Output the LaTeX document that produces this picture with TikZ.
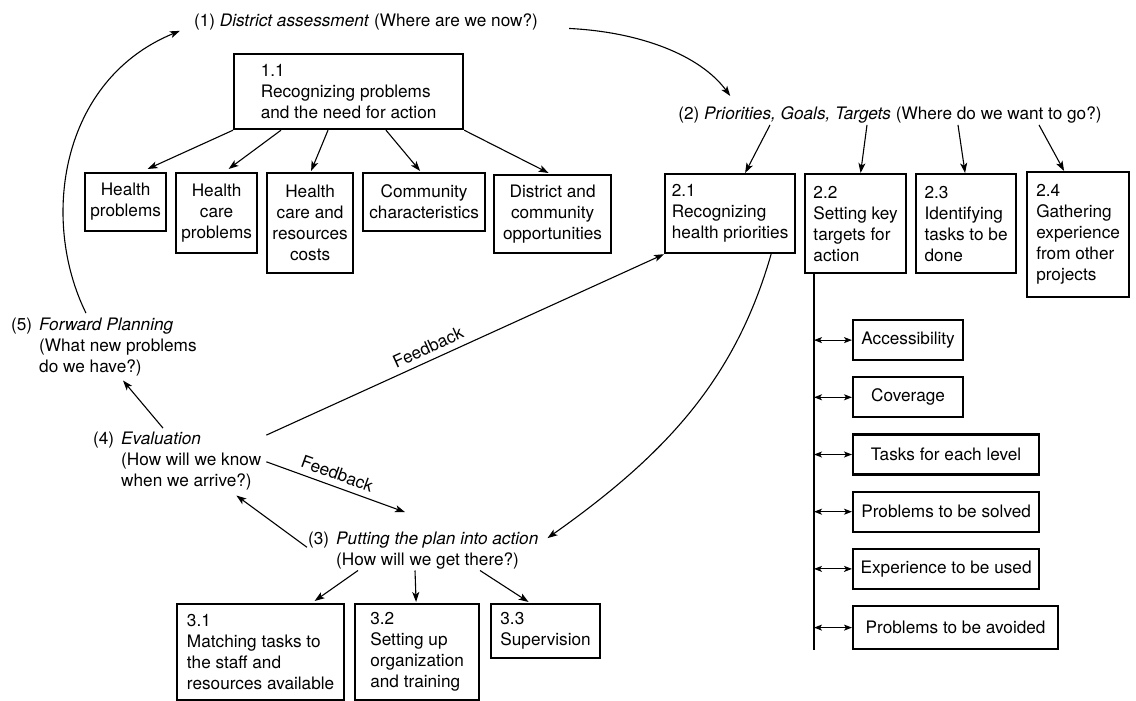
\documentclass[tikz,border=0pt]{standalone}
\usepackage{fontspec}
\setmainfont{TeX Gyre Heros}
\usetikzlibrary{positioning, arrows.meta, calc}

\begin{document}
\begin{tikzpicture}[x=1pt, y=-1pt,
    every node/.style={font=\fontsize{17.2}{21}\selectfont},
    box/.style={draw, line width=2.2pt, inner sep=3pt, anchor=north west, align=center},
    lbox/.style={box, align=left},
    dims/.style 2 args={minimum width=#1pt, minimum height=#2pt},
    stage/.style={inner sep=0pt, anchor=base west},
    title/.style={inner sep=2pt, anchor=base},
    fb/.style={above, sloped, inner sep=6pt},
    arr/.style={-{Stealth[length=10pt, width=7pt, inset=2.5pt]}, line width=1.1pt},
    link/.style={{Stealth[length=8pt, width=6pt, inset=2pt]}-{Stealth[length=8pt, width=6pt, inset=2pt]}, line width=1.1pt},
    bar/.style={line width=1.1pt}
]
\useasboundingbox (0,0) rectangle (1136,701);

% (1) district assessment
\node[title] (dist) at (366,27) {(1) \textit{District assessment} (Where are we now?)};
\node[lbox, dims={229}{75}] (rec) at (233,53) {1.1\\Recognizing problems\\and the need for action};
\node[box, dims={81}{58}] (hprob) at (84,172) {Health\\problems};
\node[box, dims={81}{80}] (hcare) at (175,172) {Health\\care\\problems};
\node[box, dims={86}{100}] (hcost) at (266,172) {Health\\care and\\resources\\costs};
\node[box, dims={122}{58}] (comm) at (362,172) {Community\\characteristics};
\node[box, dims={117}{78}] (opp) at (493,174) {District and\\community\\opportunities};

% (2) priorities
\node[title] (prio) at (890,119) {(2) \textit{Priorities, Goals, Targets} (Where do we want to go?)};
\node[lbox, dims={130}{79}] (hprio) at (664,173) {2.1\\Recognizing\\health priorities};
\node[lbox, dims={101}{99}] (keyt) at (804,173) {2.2\\Setting key\\targets for\\action};
\node[lbox, dims={100}{99}] (tasks) at (915,173) {2.3\\Identifying\\tasks to be\\done};
\node[lbox, dims={102}{125}] (gath) at (1026,171) {2.4\\Gathering\\experience\\from other\\projects};

\node[box, dims={110}{40}] (acc) at (852,319) {Accessibility};
\node[box, dims={110}{40}, below=15pt of acc.south west, anchor=north west] (cov) {Coverage};
\node[box, dims={186}{40}, below=15pt of cov.south west, anchor=north west] (lvl) {Tasks for each level};
\node[box, dims={186}{40}, below=15pt of lvl.south west, anchor=north west] (solv) {Problems to be solved};
\node[box, dims={186}{40}, below=15pt of solv.south west, anchor=north west] (expu) {Experience to be used};
\node[box, dims={205}{43}, below=15pt of expu.south west, anchor=north west] (avoid) {Problems to be avoided};

% (3) (4) (5)
\node[stage] (fwd) at (11,330) {\begin{tabular}[t]{@{}l@{\hspace{7pt}}l@{}}(5) & \textit{Forward Planning}\\ & (What new problems\\ & do we have?)\end{tabular}};
\node[stage] (eval) at (93,444) {\begin{tabular}[t]{@{}l@{\hspace{7pt}}l@{}}(4) & \textit{Evaluation}\\ & (How will we know\\ & when we arrive?)\end{tabular}};
\node[stage] (act) at (308,544) {\begin{tabular}[t]{@{}l@{\hspace{7pt}}l@{}}(3) & \textit{Putting the plan into action}\\ & (How will we get there?)\end{tabular}};

\node[lbox, dims={167}{96}] (match) at (176,603) {3.1\\Matching tasks to\\the staff and\\resources available};
\node[lbox, dims={124}{96}] (org) at (354,603) {3.2\\Setting up\\organization\\and training};
\node[lbox, dims={109}{54}] (sup) at (490,603) {3.3\\Supervision};

% cycle
\draw[arr] ($(fwd.north west)+(75,-2)$) .. controls (40,220) and (60,80) .. ($(dist.south west)+(-12,-2)$);
\draw[arr] ($(dist.east)+(29,6)$) .. controls (640,32) and (700,55) .. ($(prio.north west)+(54,-8)$);
\draw[arr] ($(hprio.south)+(41,0)$) .. controls (735,380) and (665,455) .. ($(act.north east)+(9,9)$);
\draw[arr] ($(act.west)+(-1,-3)$) -- ($(eval.south east)+(-25,3)$);
\draw[arr] ($(eval.north west)+(70,-1)$) -- ($(fwd.south west)+(112,2)$);
\draw[arr] ($(eval.north east)+(5,6)$) -- node[fb, pos=0.42] {Feedback} (hprio.south west);
\draw[arr] ($(eval.east)+(5,1)$) -- node[fb, pos=0.48] {Feedback} ($(act.north west)+(97,-17)$);

% branches
\draw[arr] (rec.south west) -- ($(hprob.north)+(22,-3)$);
\draw[arr] ($(rec.south west)+(48,0)$) -- ($(hcare.north)+(12,-3)$);
\draw[arr] ($(rec.south west)+(95,0)$) -- ($(hcost.north)+(1,-1)$);
\draw[arr] ($(rec.south west)+(153,0)$) -- ($(comm.north)+(-4,-1)$);
\draw[arr] (rec.south east) -- ($(opp.north)+(-4,-1)$);

\draw[arr] ($(prio.south)+(-120,0)$) -- ($(hprio.north)+(15,0)$);
\draw[arr] ($(prio.south)+(-23,0)$) -- ($(keyt.north)+(5,0)$);
\draw[arr] ($(prio.south)+(68,0)$) -- ($(tasks.north)+(-1,0)$);
\draw[arr] ($(prio.south)+(149,0)$) -- ($(gath.north)+(-14,0)$);

\coordinate (bus) at ($(keyt.south west)+(10,0)$);
\draw[bar] (bus) -- (bus |- avoid.south);
\foreach \n in {acc,cov,lvl,solv,expu,avoid}
  \draw[link] (bus |- \n.west) -- (\n.west);

\draw[arr] ($(act.south west)+(50,-1)$) -- ($(match.north)+(54,-2)$);
\draw[arr] ($(act.south west)+(107,-1)$) -- ($(org.north)+(-1,-1)$);
\draw[arr] ($(act.south west)+(172,-1)$) -- ($(sup.north)+(-17,-1)$);

\end{tikzpicture}
\end{document}
